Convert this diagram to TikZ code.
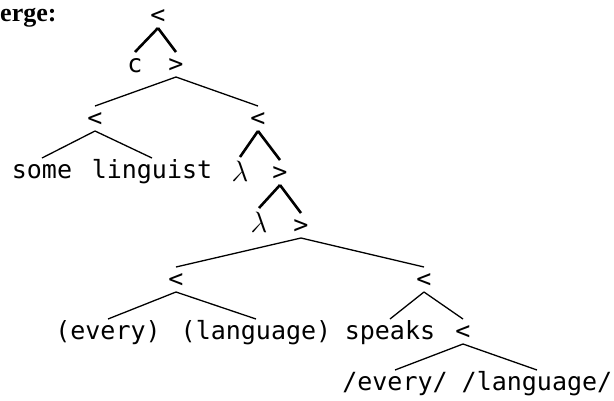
\documentclass[tikz,border=0pt]{standalone}
\usepackage{graphicx}
\usepackage{fontspec}
\newfontfamily\treefont{DejaVu Sans Mono}
\newfontfamily\headfont{Liberation Serif}
\newcommand\biglam{\scalebox{1.18}{$\lambda$}}
\begin{document}
\begin{tikzpicture}[x=1pt,y=-1pt,
  lbl/.style={inner sep=0pt,font=\treefont\fontsize{25}{30}\selectfont},
  lam/.style={inner sep=0pt,font=\fontsize{25}{30}\selectfont},
  lnk/.style={line width=1.3pt},
  lnkbold/.style={line width=2.6pt},
]
\useasboundingbox (0,0) rectangle (614,400);

% heading, partly outside the page on the left
\node[anchor=base west,inner sep=0pt,font=\headfont\bfseries\fontsize{26}{30}\selectfont] (title) at (-24.5,21) {Merge:};

% tree nodes
\node[lbl] (r)     at (158,17)  {<};
\node[lbl] (c)     at (135,66)  {c};
\node[lbl] (g1)    at (176,66)  {>};
\node[lbl] (a)     at (95,120)  {<};
\node[lbl] (b)     at (258,120) {<};
\node[lbl] (some)  at (42,172)  {some};
\node[lbl] (ling)  at (152,172) {linguist};
\node[lam] (lam1)  at (240,171) {\biglam};
\node[lbl] (g2)    at (280,174) {>};
\node[lam] (lam2)  at (259,222) {\biglam};
\node[lbl] (g3)    at (301,227) {>};
\node[lbl] (d)     at (176,281) {<};
\node[lbl] (e)     at (424,281) {<};
\node[lbl] (ev)    at (108,333) {(every)};
\node[lbl] (lang)  at (256,333) {(language)};
\node[lbl] (spk)   at (390,333) {speaks};
\node[lbl] (f)     at (463,333) {<};
\node[lbl] (sev)   at (395,384) {/every/};
\node[lbl] (slang) at (537,384) {/language/};

% branches
\newcommand\branch[3]{\draw[#1] ([yshift=-11pt]#2.center) -- ([yshift=14pt]#3.center);}
\branch{lnkbold}{r}{c}
\branch{lnkbold}{r}{g1}
\branch{lnk}{g1}{a}
\branch{lnk}{g1}{b}
\branch{lnk}{a}{some}
\branch{lnk}{a}{ling}
\branch{lnkbold}{b}{lam1}
\branch{lnkbold}{b}{g2}
\branch{lnkbold}{g2}{lam2}
\branch{lnkbold}{g2}{g3}
\branch{lnk}{g3}{d}
\branch{lnk}{g3}{e}
\branch{lnk}{d}{ev}
\branch{lnk}{d}{lang}
\branch{lnk}{e}{spk}
\branch{lnk}{e}{f}
\branch{lnk}{f}{sev}
\branch{lnk}{f}{slang}
\end{tikzpicture}
\end{document}
